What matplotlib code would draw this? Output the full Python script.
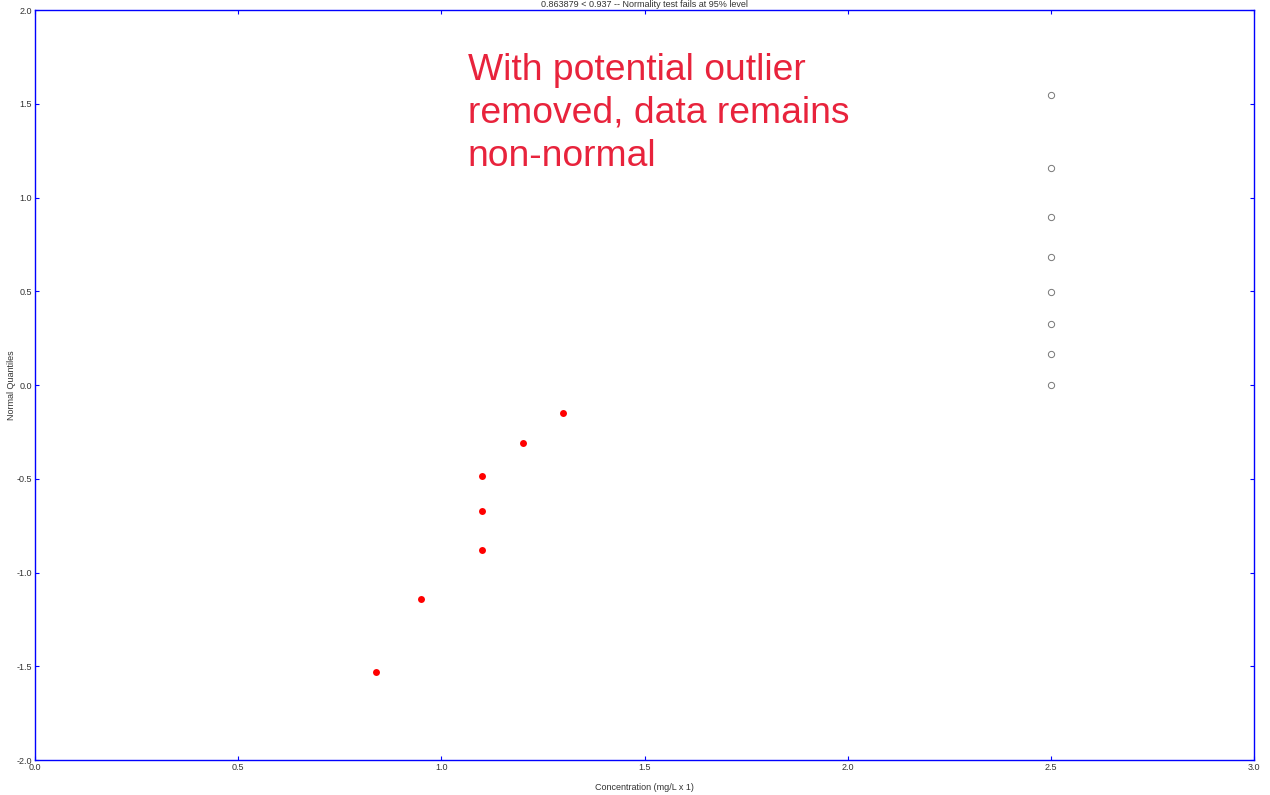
import numpy as np
import matplotlib
matplotlib.use('Agg')
import matplotlib.pyplot as plt

plt.rcParams['font.family'] = ['Liberation Sans', 'DejaVu Sans']

# normal scores plot, outlier removed
conc = [0.84, 0.95, 1.10, 1.10, 1.10, 1.20, 1.30]
quant = [-1.53, -1.14, -0.88, -0.67, -0.485, -0.31, -0.15]

# censored / placeholder points at right
cens_x = [2.5, 2.5, 2.5, 2.5, 2.5, 2.5, 2.5, 2.5]
cens_q = [1.545, 1.157, 0.896, 0.683, 0.496, 0.325, 0.165, 0.0]

xticks = [0.0, 0.5, 1.0, 1.5, 2.0, 2.5, 3.0]
yticks = [-2.0, -1.5, -1.0, -0.5, 0.0, 0.5, 1.0, 1.5, 2.0]

small = ['Liberation Sans Narrow', 'Liberation Sans', 'DejaVu Sans']

fig = plt.figure(figsize=(12.7, 7.95), dpi=100)
ax = fig.add_axes([0.0276, 0.044, 0.9598, 0.9434])

ax.plot(conc, quant, 'o', color='red', markersize=5, markeredgewidth=0)
ax.plot(cens_x, cens_q, 'o', markerfacecolor='none', markeredgecolor='#777777',
        markersize=4.5, markeredgewidth=0.7)

ax.set_xlim(0, 3)
ax.set_ylim(-2, 2)
ax.set_xticks(xticks)
ax.set_yticks(yticks)
ax.set_xticklabels(['%.1f' % v for v in xticks], family=small)
ax.set_yticklabels(['%.1f' % v for v in yticks], family=small)
ax.tick_params(direction='in', length=3, width=0.8, color='blue', labelsize=6.5,
               labelcolor='#333333', top=True, right=True, pad=2)
for s in ax.spines.values():
    s.set_color('blue')
    s.set_linewidth(1.0)

ax.set_xlabel('Concentration (mg/L x 1)', fontsize=6.5, color='#333333', family=small)
ax.xaxis.set_label_coords(0.5, -0.031)
ax.set_ylabel('Normal Quantiles', fontsize=6.5, color='#333333', family=small)
ax.yaxis.set_label_coords(-0.016, 0.5)
ax.set_title('0.863879 < 0.937 -- Normality test fails at 95% level',
             fontsize=6.5, color='#333333', pad=2, family=small)

ax.text(0.355, 0.943, 'With potential outlier\nremoved, data remains\nnon-normal',
        transform=ax.transAxes, fontsize=26.8, color='#e8233c', va='top', ha='left',
        linespacing=1.3)

fig.savefig('out.png', dpi=100)
